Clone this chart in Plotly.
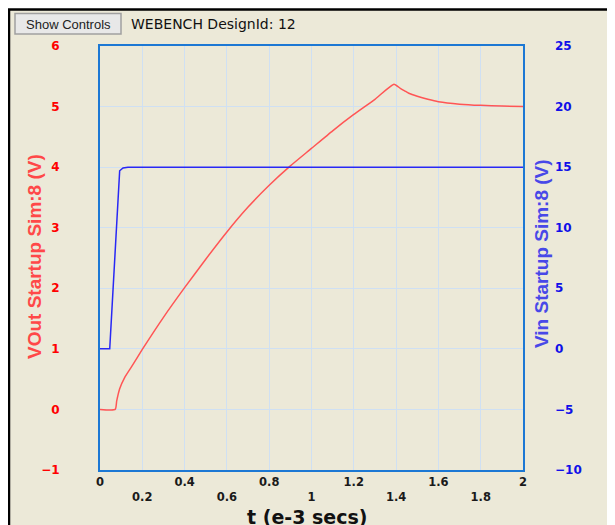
import plotly.graph_objects as go

# ---- data (time in ms) ----
t_vout = [0.0, 0.072, 0.079, 0.093, 0.117, 0.148, 0.2, 0.3, 0.4, 0.5, 0.6, 0.7, 0.8, 0.9,
          1.0, 1.1, 1.2, 1.3, 1.39, 1.42, 1.44, 1.46, 1.5, 1.55, 1.6, 1.7, 1.8, 1.9, 2.0]
vout = [0.0, 0.0, 0.14, 0.34, 0.53, 0.70, 0.99, 1.52, 2.01, 2.48, 2.93, 3.34, 3.70, 4.02,
        4.31, 4.60, 4.87, 5.12, 5.37, 5.30, 5.26, 5.22, 5.17, 5.12, 5.08, 5.04, 5.02, 5.01, 5.00]

t_vin = [0.0, 0.046, 0.093, 0.109, 0.132, 2.0]
vin = [0.0, 0.0, 14.7, 14.93, 15.0, 15.0]

x_ticks = [0, 0.2, 0.4, 0.6, 0.8, 1.0, 1.2, 1.4, 1.6, 1.8, 2.0]
x_ticklabels = ["0", " <br>0.2", "0.4", " <br>0.6", "0.8", " <br>1", "1.2", " <br>1.4", "1.6", " <br>1.8", "2"]
left_ticks = [-1, 0, 1, 2, 3, 4, 5, 6]
right_ticks = [-10, -5, 0, 5, 10, 15, 20, 25]

title_text = "WEBENCH DesignId: 12"
button_text = "Show Controls"
xlabel = "t (e-3 secs)"
ylabel_left = "VOut Startup Sim:8 (V)"
ylabel_right = "Vin Startup Sim:8 (V)"

# ---- geometry (page pixels; the page body adds an 8px offset) ----
OFF = 8
W, H = 615 - OFF, 525 - OFF
PL, PR, PT, PB = 100, 523, 46, 470          # plot box in page pixels
L, T = PL - OFF, PT - OFF
R, B = W - (PR - OFF), H - (PB - OFF)
PW, PH = W - L - R, H - T - B


def px(x):
    return (x - OFF - L) / PW


def py(y):
    return (H - B - (y - OFF)) / PH


fig = go.Figure()
fig.add_trace(go.Scatter(x=t_vout, y=vout, mode="lines", yaxis="y",
                         line=dict(color="#FF5555", width=1.5, shape="spline", smoothing=0.5),
                         showlegend=False))
fig.add_trace(go.Scatter(x=t_vin, y=vin, mode="lines", yaxis="y2",
                         line=dict(color="#2828F5", width=1.5), showlegend=False))

border = "#1C78D4"
grid = "#CFE0F3"

fig.update_layout(
    width=W, height=H,
    margin=dict(l=L, r=R, t=T, b=B, pad=0),
    paper_bgcolor="white",
    plot_bgcolor="white",
    showlegend=False,
    xaxis=dict(range=[0, 2], tickvals=x_ticks, ticktext=x_ticklabels,
               showgrid=True, gridcolor=grid, gridwidth=1, zeroline=False,
               showline=True, linecolor=border, linewidth=2, mirror=True,
               ticks="", ticklabelstandoff=0,
               tickfont=dict(family="DejaVu Sans", size=11.5, color="#1a1a1a", weight="bold")),
    yaxis=dict(range=[-1, 6], tickvals=left_ticks,
               showgrid=True, gridcolor=grid, gridwidth=1, zeroline=False,
               showline=True, linecolor=border, linewidth=2, mirror=True,
               ticks="", ticklabelstandoff=36,
               tickfont=dict(family="DejaVu Sans", size=12, color="#FF0000", weight="bold")),
    yaxis2=dict(range=[-10, 25], tickvals=right_ticks, overlaying="y", side="right",
                showgrid=False, zeroline=False, showline=False,
                ticks="", ticklabelstandoff=31,
                tickfont=dict(family="DejaVu Sans", size=12, color="#1010E8", weight="bold")),
)

# background panel with black frame
fig.add_shape(type="rect", xref="paper", yref="paper", layer="below",
              x0=px(9), x1=px(660), y0=py(580), y1=py(9.5),
              fillcolor="#ECE9D8", line=dict(color="black", width=2.5))
# button
fig.add_shape(type="rect", xref="paper", yref="paper", layer="above",
              x0=px(15), x1=px(121), y0=py(34), y1=py(13.5),
              fillcolor="#E8E8E8", line=dict(color="#A0A0A0", width=1.5))

fig.add_annotation(x=px(68), y=py(24), xref="paper", yref="paper", showarrow=False,
                   text=button_text, xanchor="center", yanchor="middle",
                   font=dict(family="Liberation Sans", size=13, color="#222222"))
fig.add_annotation(x=px(129), y=py(24), xref="paper", yref="paper", showarrow=False,
                   text=title_text, xanchor="left", yanchor="middle",
                   font=dict(family="DejaVu Sans", size=14, color="#111111"))
fig.add_annotation(x=px(34), y=py(257), xref="paper", yref="paper", showarrow=False,
                   text=ylabel_left, textangle=-90, xanchor="center", yanchor="middle",
                   font=dict(family="Liberation Sans", size=19, color="#FF4848", weight="bold"))
fig.add_annotation(x=px(541), y=py(254), xref="paper", yref="paper", showarrow=False,
                   text=ylabel_right, textangle=-90, xanchor="center", yanchor="middle",
                   font=dict(family="Liberation Sans", size=19, color="#4848E8", weight="bold"))
fig.add_annotation(x=px(307), y=py(517), xref="paper", yref="paper", showarrow=False,
                   text=xlabel, xanchor="center", yanchor="middle",
                   font=dict(family="DejaVu Sans", size=19, color="#111111", weight="bold"))

fig.write_html("out.html")
